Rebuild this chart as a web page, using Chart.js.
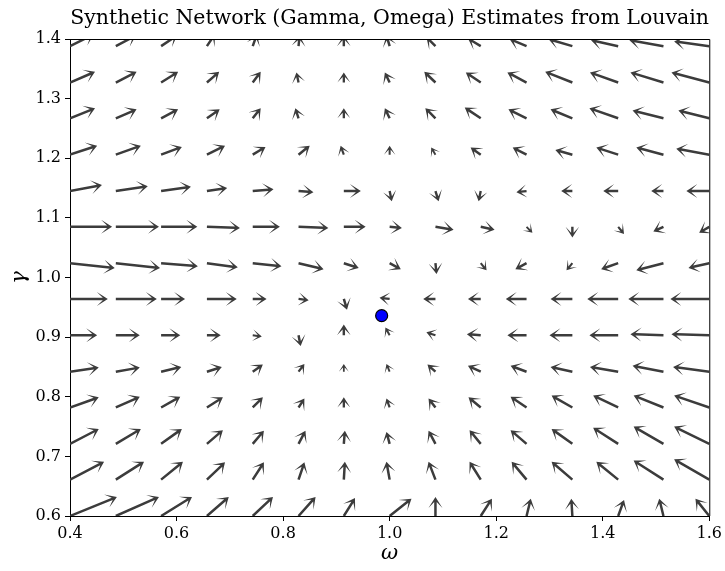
<!DOCTYPE html>
<html>
<head>
<meta charset="utf-8">
<script src="https://cdn.jsdelivr.net/npm/chart.js@4.4.1/dist/chart.umd.min.js"></script>
<style>
  html, body { margin: 0; padding: 0; background: #fff; }
  canvas { display: block; }
</style>
</head>
<body>
<canvas id="quiverChart" width="725" height="571"></canvas>
<script>
'use strict';

// grid of (omega, gamma) starting points
var omegaValues = [0.4, 0.486, 0.571, 0.657, 0.743, 0.829, 0.914, 1.0, 1.086, 1.171, 1.257, 1.343, 1.429, 1.514, 1.6];
var gammaValues = [0.6, 0.661, 0.721, 0.782, 0.842, 0.903, 0.964, 1.024, 1.085, 1.145, 1.206, 1.267, 1.327, 1.388];

// estimated step in omega, one row per gamma value (bottom row first)
var dOmega = [
    [0.088, 0.081, 0.058, 0.041, 0.038, 0.032, 0.021, 0.041, 0.000, 0.021, 0.008, -0.002, 0.011, -0.008, -0.026],
    [0.064, 0.053, 0.041, 0.034, 0.021, 0.011, 0.002, -0.006, -0.013, -0.021, -0.028, -0.039, -0.041, -0.056, -0.066],
    [0.054, 0.047, 0.039, 0.030, 0.021, 0.013, 0.002, -0.006, -0.013, -0.021, -0.030, -0.039, -0.047, -0.056, -0.066],
    [0.054, 0.045, 0.036, 0.030, 0.019, 0.011, 0.000, -0.006, -0.013, -0.023, -0.030, -0.039, -0.047, -0.056, -0.066],
    [0.054, 0.045, 0.038, 0.028, 0.019, 0.011, 0.000, -0.006, -0.015, -0.024, -0.030, -0.041, -0.053, -0.058, -0.068],
    [0.051, 0.045, 0.036, 0.026, 0.017, 0.004, 0.000, -0.008, -0.017, -0.026, -0.036, -0.043, -0.054, -0.062, -0.071],
    [0.071, 0.077, 0.045, 0.056, 0.026, 0.019, 0.006, -0.019, -0.023, -0.024, -0.039, -0.041, -0.058, -0.066, -0.073],
    [0.084, 0.083, 0.069, 0.058, 0.054, 0.047, 0.028, 0.021, 0.002, 0.011, -0.021, -0.011, -0.032, -0.051, -0.039],
    [0.079, 0.081, 0.068, 0.062, 0.051, 0.056, 0.041, 0.023, 0.034, 0.026, 0.011, 0.000, 0.011, -0.019, -0.019],
    [0.060, 0.060, 0.056, 0.038, 0.039, 0.028, 0.032, 0.004, 0.006, -0.004, -0.019, -0.021, -0.028, -0.023, -0.043],
    [0.051, 0.047, 0.039, 0.034, 0.024, 0.021, -0.006, 0.000, -0.008, -0.019, -0.026, -0.032, -0.041, -0.051, -0.062],
    [0.047, 0.039, 0.032, 0.024, 0.015, -0.006, 0.000, -0.009, -0.019, -0.030, -0.034, -0.041, -0.054, -0.058, -0.058],
    [0.047, 0.039, 0.032, 0.023, 0.015, -0.004, 0.000, -0.009, -0.021, -0.028, -0.036, -0.051, -0.053, -0.062, -0.071],
    [0.045, 0.038, 0.030, 0.015, 0.008, 0.002, 0.000, -0.006, -0.017, -0.024, -0.032, -0.045, -0.051, -0.064, -0.066]
];

// estimated step in gamma, same layout
var dGamma = [
    [0.032, 0.032, 0.032, 0.032, 0.032, 0.032, 0.030, 0.029, 0.032, 0.029, 0.029, 0.029, 0.027, 0.029, 0.029],
    [0.030, 0.030, 0.030, 0.029, 0.029, 0.029, 0.030, 0.030, 0.030, 0.030, 0.030, 0.030, 0.030, 0.032, 0.034],
    [0.025, 0.025, 0.025, 0.023, 0.022, 0.022, 0.022, 0.020, 0.022, 0.023, 0.023, 0.025, 0.027, 0.029, 0.029],
    [0.017, 0.018, 0.018, 0.017, 0.017, 0.015, 0.017, 0.015, 0.015, 0.017, 0.018, 0.020, 0.020, 0.020, 0.020],
    [0.007, 0.007, 0.008, 0.008, 0.012, 0.013, 0.013, 0.013, 0.012, 0.010, 0.010, 0.008, 0.008, 0.010, 0.008],
    [0.000, 0.000, 0.000, 0.000, -0.002, -0.018, 0.018, 0.013, 0.005, 0.002, 0.000, 0.000, 0.000, 0.002, 0.002],
    [0.000, 0.000, 0.000, 0.000, 0.000, -0.002, -0.018, 0.002, 0.000, 0.000, 0.000, 0.000, 0.000, 0.000, 0.000],
    [-0.008, -0.008, -0.005, -0.007, -0.005, -0.010, -0.008, -0.010, -0.018, -0.012, -0.010, -0.012, -0.010, -0.012, -0.008],
    [0.000, 0.000, 0.000, -0.002, 0.000, -0.002, 0.000, -0.002, -0.005, -0.005, -0.010, -0.018, -0.012, -0.008, -0.010],
    [0.010, 0.008, 0.007, 0.005, 0.003, -0.002, 0.000, -0.017, -0.017, -0.017, -0.002, 0.000, 0.000, 0.000, 0.000],
    [0.015, 0.015, 0.013, 0.015, 0.013, 0.015, 0.015, 0.015, 0.012, 0.012, 0.012, 0.008, 0.012, 0.012, 0.010],
    [0.017, 0.015, 0.015, 0.015, 0.017, 0.017, 0.017, 0.017, 0.017, 0.018, 0.015, 0.015, 0.017, 0.013, 0.013],
    [0.018, 0.018, 0.018, 0.018, 0.018, 0.017, 0.017, 0.017, 0.018, 0.017, 0.017, 0.018, 0.017, 0.017, 0.017],
    [0.020, 0.018, 0.018, 0.020, 0.020, 0.018, 0.018, 0.018, 0.015, 0.013, 0.012, 0.012, 0.010, 0.010, 0.008]
];

// fixed point estimate
var estimateOmega = [0.985];
var estimateGamma = [0.936];

var xTicks = [0.4, 0.6, 0.8, 1.0, 1.2, 1.4, 1.6];
var yTicks = [0.6, 0.7, 0.8, 0.9, 1.0, 1.1, 1.2, 1.3, 1.4];

var titleText = 'Synthetic Network (Gamma, Omega) Estimates from Louvain';
var serif = "'DejaVu Serif', 'Liberation Serif', serif";
var arrowColor = '#3c3c3c';

// arrow shape in pixels (tail pivot, short arrows are scaled-down copies)
var shaftWidth = 2.5;
var headLength = 11;
var headAxisLength = 5;
var headHalfWidth = 7;

function drawArrow(ctx, x0, y0, x1, y1) {
    var dx = x1 - x0, dy = y1 - y0;
    var len = Math.sqrt(dx * dx + dy * dy);
    if (len < 0.5) {
        return;
    }
    var hw = shaftWidth / 2;
    var pts;
    if (len >= headLength) {
        pts = [[0, hw], [len - headAxisLength, hw], [len - headLength, headHalfWidth], [len, 0],
               [len - headLength, -headHalfWidth], [len - headAxisLength, -hw], [0, -hw]];
    } else {
        var s = len / headLength;
        pts = [[0, hw], [headLength - headAxisLength, hw], [0, headHalfWidth], [headLength, 0],
               [0, -headHalfWidth], [headLength - headAxisLength, -hw], [0, -hw]].map(function (p) {
            return [p[0] * s, p[1] * s];
        });
    }
    var a = Math.atan2(dy, dx);
    var c = Math.cos(a), sn = Math.sin(a);
    ctx.beginPath();
    pts.forEach(function (p, i) {
        var px = x0 + p[0] * c - p[1] * sn;
        var py = y0 + p[0] * sn + p[1] * c;
        if (i === 0) {
            ctx.moveTo(px, py);
        } else {
            ctx.lineTo(px, py);
        }
    });
    ctx.closePath();
    ctx.fill();
}

var quiverPlugin = {
    id: 'quiver',
    beforeDraw: function (chart) {
        var ctx = chart.ctx;
        ctx.save();
        ctx.fillStyle = '#fff';
        ctx.fillRect(0, 0, chart.width, chart.height);
        ctx.restore();
    },
    beforeDatasetsDraw: function (chart) {
        var ctx = chart.ctx;
        var xs = chart.scales.x, ys = chart.scales.y;
        var area = chart.chartArea;
        ctx.save();
        ctx.beginPath();
        ctx.rect(area.left, area.top, area.right - area.left, area.bottom - area.top);
        ctx.clip();
        ctx.fillStyle = arrowColor;
        for (var j = 0; j < gammaValues.length; j++) {
            for (var i = 0; i < omegaValues.length; i++) {
                var w = omegaValues[i], g = gammaValues[j];
                drawArrow(ctx,
                    xs.getPixelForValue(w), ys.getPixelForValue(g),
                    xs.getPixelForValue(w + dOmega[j][i]), ys.getPixelForValue(g + dGamma[j][i]));
            }
        }
        ctx.restore();
    },
    afterDraw: function (chart) {
        var ctx = chart.ctx;
        var area = chart.chartArea;
        var midX = (area.left + area.right) / 2;
        ctx.save();
        // top and right spines
        ctx.strokeStyle = '#000';
        ctx.lineWidth = 1;
        ctx.beginPath();
        ctx.moveTo(area.left, area.top + 0.5);
        ctx.lineTo(area.right + 0.5, area.top + 0.5);
        ctx.lineTo(area.right + 0.5, area.bottom);
        ctx.stroke();
        // title over the axes
        ctx.fillStyle = '#000';
        ctx.textAlign = 'center';
        ctx.textBaseline = 'alphabetic';
        ctx.font = '20.5px ' + serif;
        ctx.fillText(titleText, midX, 24);
        // axis labels
        ctx.textBaseline = 'middle';
        ctx.font = 'italic 21px ' + serif;
        ctx.fillText('\u03c9', midX, 554);
        ctx.translate(20, (area.top + area.bottom) / 2);
        ctx.rotate(-Math.PI / 2);
        ctx.fillText('\u03b3', 0, 0);
        ctx.restore();
    }
};

var canvas = document.getElementById('quiverChart');

new Chart(canvas.getContext('2d'), {
    type: 'scatter',
    data: {
        datasets: [{
            data: estimateOmega.map(function (w, k) {
                return { x: w, y: estimateGamma[k] };
            }),
            pointRadius: 6,
            pointBackgroundColor: '#0000ff',
            pointBorderColor: '#000',
            pointBorderWidth: 1.2,
            clip: false
        }]
    },
    options: {
        responsive: false,
        animation: false,
        events: [],
        layout: { padding: { top: 39, right: 15, left: 0, bottom: 0 } },
        plugins: {
            legend: { display: false },
            tooltip: { enabled: false },
            title: { display: false }
        },
        scales: {
            x: {
                type: 'linear',
                min: 0.4,
                max: 1.6,
                afterBuildTicks: function (scale) {
                    scale.ticks = xTicks.map(function (v) { return { value: v }; });
                },
                ticks: {
                    color: '#000',
                    font: { family: serif, size: 16 },
                    padding: 3,
                    maxRotation: 0,
                    callback: function (v) { return Number(v).toFixed(1); }
                },
                grid: { drawOnChartArea: false, drawTicks: true, tickLength: 5, color: '#000' },
                border: { display: true, color: '#000', width: 1 },
                afterFit: function (scale) { scale.height = 55; }
            },
            y: {
                type: 'linear',
                min: 0.6,
                max: 1.4,
                afterBuildTicks: function (scale) {
                    scale.ticks = yTicks.map(function (v) { return { value: v }; });
                },
                ticks: {
                    color: '#000',
                    font: { family: serif, size: 16 },
                    padding: 4,
                    callback: function (v) { return Number(v).toFixed(1); }
                },
                grid: { drawOnChartArea: false, drawTicks: true, tickLength: 5, color: '#000' },
                border: { display: true, color: '#000', width: 1 },
                afterFit: function (scale) { scale.width = 70; }
            }
        }
    },
    plugins: [quiverPlugin]
});
</script>
</body>
</html>
